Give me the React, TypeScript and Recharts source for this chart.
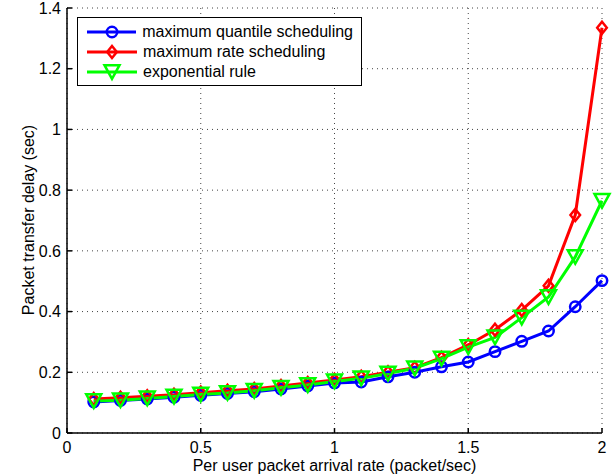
import React from 'react';
import { LineChart, Line, XAxis, YAxis, CartesianGrid, Legend } from 'recharts';

// Per user packet arrival rate (packet/sec)
const arrivalRates = [0.1, 0.2, 0.3, 0.4, 0.5, 0.6, 0.7, 0.8, 0.9, 1.0, 1.1, 1.2, 1.3, 1.4, 1.5, 1.6, 1.7, 1.8, 1.9, 2.0];

// Packet transfer delay (sec) for each scheduler
const quantileDelay = [0.102, 0.107, 0.112, 0.118, 0.124, 0.13, 0.136, 0.145, 0.155, 0.165, 0.168, 0.185, 0.2, 0.218, 0.234, 0.268, 0.302, 0.336, 0.416, 0.502];
const rateDelay = [0.112, 0.116, 0.121, 0.126, 0.133, 0.139, 0.145, 0.155, 0.165, 0.175, 0.185, 0.2, 0.215, 0.248, 0.29, 0.34, 0.405, 0.485, 0.718, 1.335];
const expRuleDelay = [0.105, 0.108, 0.114, 0.12, 0.127, 0.132, 0.139, 0.149, 0.158, 0.17, 0.18, 0.196, 0.213, 0.245, 0.283, 0.315, 0.38, 0.448, 0.58, 0.765];

const seriesNames = ['maximum quantile scheduling', 'maximum rate scheduling', 'exponential rule'];
const seriesColors = ['#0000ff', '#ff0000', '#00ff00'];

const xTicks = [0, 0.5, 1, 1.5, 2];
const yTicks = [0, 0.2, 0.4, 0.6, 0.8, 1, 1.2, 1.4];

const data = arrivalRates.map((x, i) => ({
  x,
  mqs: quantileDelay[i],
  mrs: rateDelay[i],
  exp: expRuleDelay[i],
}));

const FONT = '"Liberation Sans", Arial, Helvetica, sans-serif';

type MarkerKind = 'circle' | 'diamond' | 'triangle';
const markerKinds: MarkerKind[] = ['circle', 'diamond', 'triangle'];

function Marker({ kind, cx, cy, color }: { kind: MarkerKind; cx: number; cy: number; color: string }) {
  if (kind === 'circle') {
    return <circle cx={cx} cy={cy} r={5.2} fill="none" stroke={color} strokeWidth={2.5} />;
  }
  if (kind === 'diamond') {
    const s = 6;
    return (
      <polygon
        points={`${cx},${cy - s} ${cx + s * 0.8},${cy} ${cx},${cy + s} ${cx - s * 0.8},${cy}`}
        fill="none"
        stroke={color}
        strokeWidth={2.5}
      />
    );
  }
  const w = 7.5;
  const h = 6.8;
  return (
    <polygon
      points={`${cx - w},${cy - h} ${cx + w},${cy - h} ${cx},${cy + h}`}
      fill="none"
      stroke={color}
      strokeWidth={2.5}
      strokeLinejoin="miter"
    />
  );
}

const makeDot = (kind: MarkerKind, color: string) => (props: any) => {
  const { cx, cy, index } = props;
  if (cx == null || cy == null) return <g key={`d-${kind}-${index}`} />;
  return (
    <g key={`d-${kind}-${index}`}>
      <Marker kind={kind} cx={cx} cy={cy} color={color} />
    </g>
  );
};

const LegendBox = () => (
  <div
    style={{
      border: '1px solid #000',
      background: '#fff',
      padding: '4px 8px 3px 9px',
      fontFamily: FONT,
      fontSize: 16,
      color: '#000',
      boxSizing: 'border-box',
      width: 285,
      height: 69,
    }}
  >
    {seriesNames.map((name, i) => (
      <div key={name} style={{ display: 'flex', alignItems: 'center', height: 20, whiteSpace: 'nowrap' }}>
        <svg width={50} height={20} style={{ display: 'block' }}>
          <line x1={0} y1={10} x2={50} y2={10} stroke={seriesColors[i]} strokeWidth={3} />
          <Marker kind={markerKinds[i]} cx={25} cy={10} color={seriesColors[i]} />
        </svg>
        <span style={{ marginLeft: 6, lineHeight: '20px' }}>{name}</span>
      </div>
    ))}
  </div>
);

const noTick = () => <g />;

export default function App() {
  return (
    <div style={{ position: 'absolute', left: 0, top: 0, width: 616, height: 476, background: '#fff' }}>
      <LineChart
        width={616}
        height={476}
        data={data}
        margin={{ top: 8, right: 14, bottom: 0, left: 0 }}
        style={{ fontFamily: FONT }}
      >
        <CartesianGrid stroke="#444" strokeDasharray="1 4" strokeWidth={1} />
        <XAxis
          dataKey="x"
          type="number"
          domain={[0, 2]}
          ticks={xTicks}
          tickFormatter={(v: number) => String(v)}
          height={43}
          stroke="#000"
          strokeWidth={1.5}
          tickSize={-5}
          tickMargin={14}
          tick={{ fill: '#000', fontSize: 16, fontFamily: FONT }}
          interval={0}
          label={{
            value: 'Per user packet arrival rate (packet/sec)',
            position: 'insideBottom',
            offset: 5,
            fill: '#000',
            fontSize: 16,
            fontFamily: FONT,
          }}
        />
        <XAxis
          xAxisId="top"
          orientation="top"
          type="number"
          domain={[0, 2]}
          ticks={xTicks}
          height={0}
          stroke="#000"
          strokeWidth={1.5}
          tickSize={-5}
          tick={noTick}
        />
        <YAxis
          type="number"
          domain={[0, 1.4]}
          ticks={yTicks}
          tickFormatter={(v: number) => String(v)}
          width={67}
          stroke="#000"
          strokeWidth={1.5}
          tickSize={-5}
          tickMargin={11}
          tick={{ fill: '#000', fontSize: 16, fontFamily: FONT }}
          interval={0}
          label={{
            content: () => (
              <text
                x={33.5}
                y={220}
                transform="rotate(-90 33.5 220)"
                textAnchor="middle"
                fill="#000"
                fontSize={16}
                fontFamily={FONT}
              >
                Packet transfer delay (sec)
              </text>
            ),
          }}
        />
        <YAxis
          yAxisId="right"
          orientation="right"
          type="number"
          domain={[0, 1.4]}
          ticks={yTicks}
          width={0}
          stroke="#000"
          strokeWidth={1.5}
          tickSize={-5}
          tick={noTick}
        />
        <Legend
          layout="horizontal"
          verticalAlign="middle"
          align="center"
          content={() => <LegendBox />}
          wrapperStyle={{ position: 'absolute', left: 77, top: 17, width: 285, height: 69 }}
        />
        <Line
          dataKey="mqs"
          name={seriesNames[0]}
          stroke={seriesColors[0]}
          strokeWidth={3}
          dot={makeDot('circle', seriesColors[0])}
          activeDot={false}
          isAnimationActive={false}
        />
        <Line
          dataKey="mrs"
          name={seriesNames[1]}
          stroke={seriesColors[1]}
          strokeWidth={3}
          dot={makeDot('diamond', seriesColors[1])}
          activeDot={false}
          isAnimationActive={false}
        />
        <Line
          dataKey="exp"
          name={seriesNames[2]}
          stroke={seriesColors[2]}
          strokeWidth={3}
          dot={makeDot('triangle', seriesColors[2])}
          activeDot={false}
          isAnimationActive={false}
        />
      </LineChart>
    </div>
  );
}
